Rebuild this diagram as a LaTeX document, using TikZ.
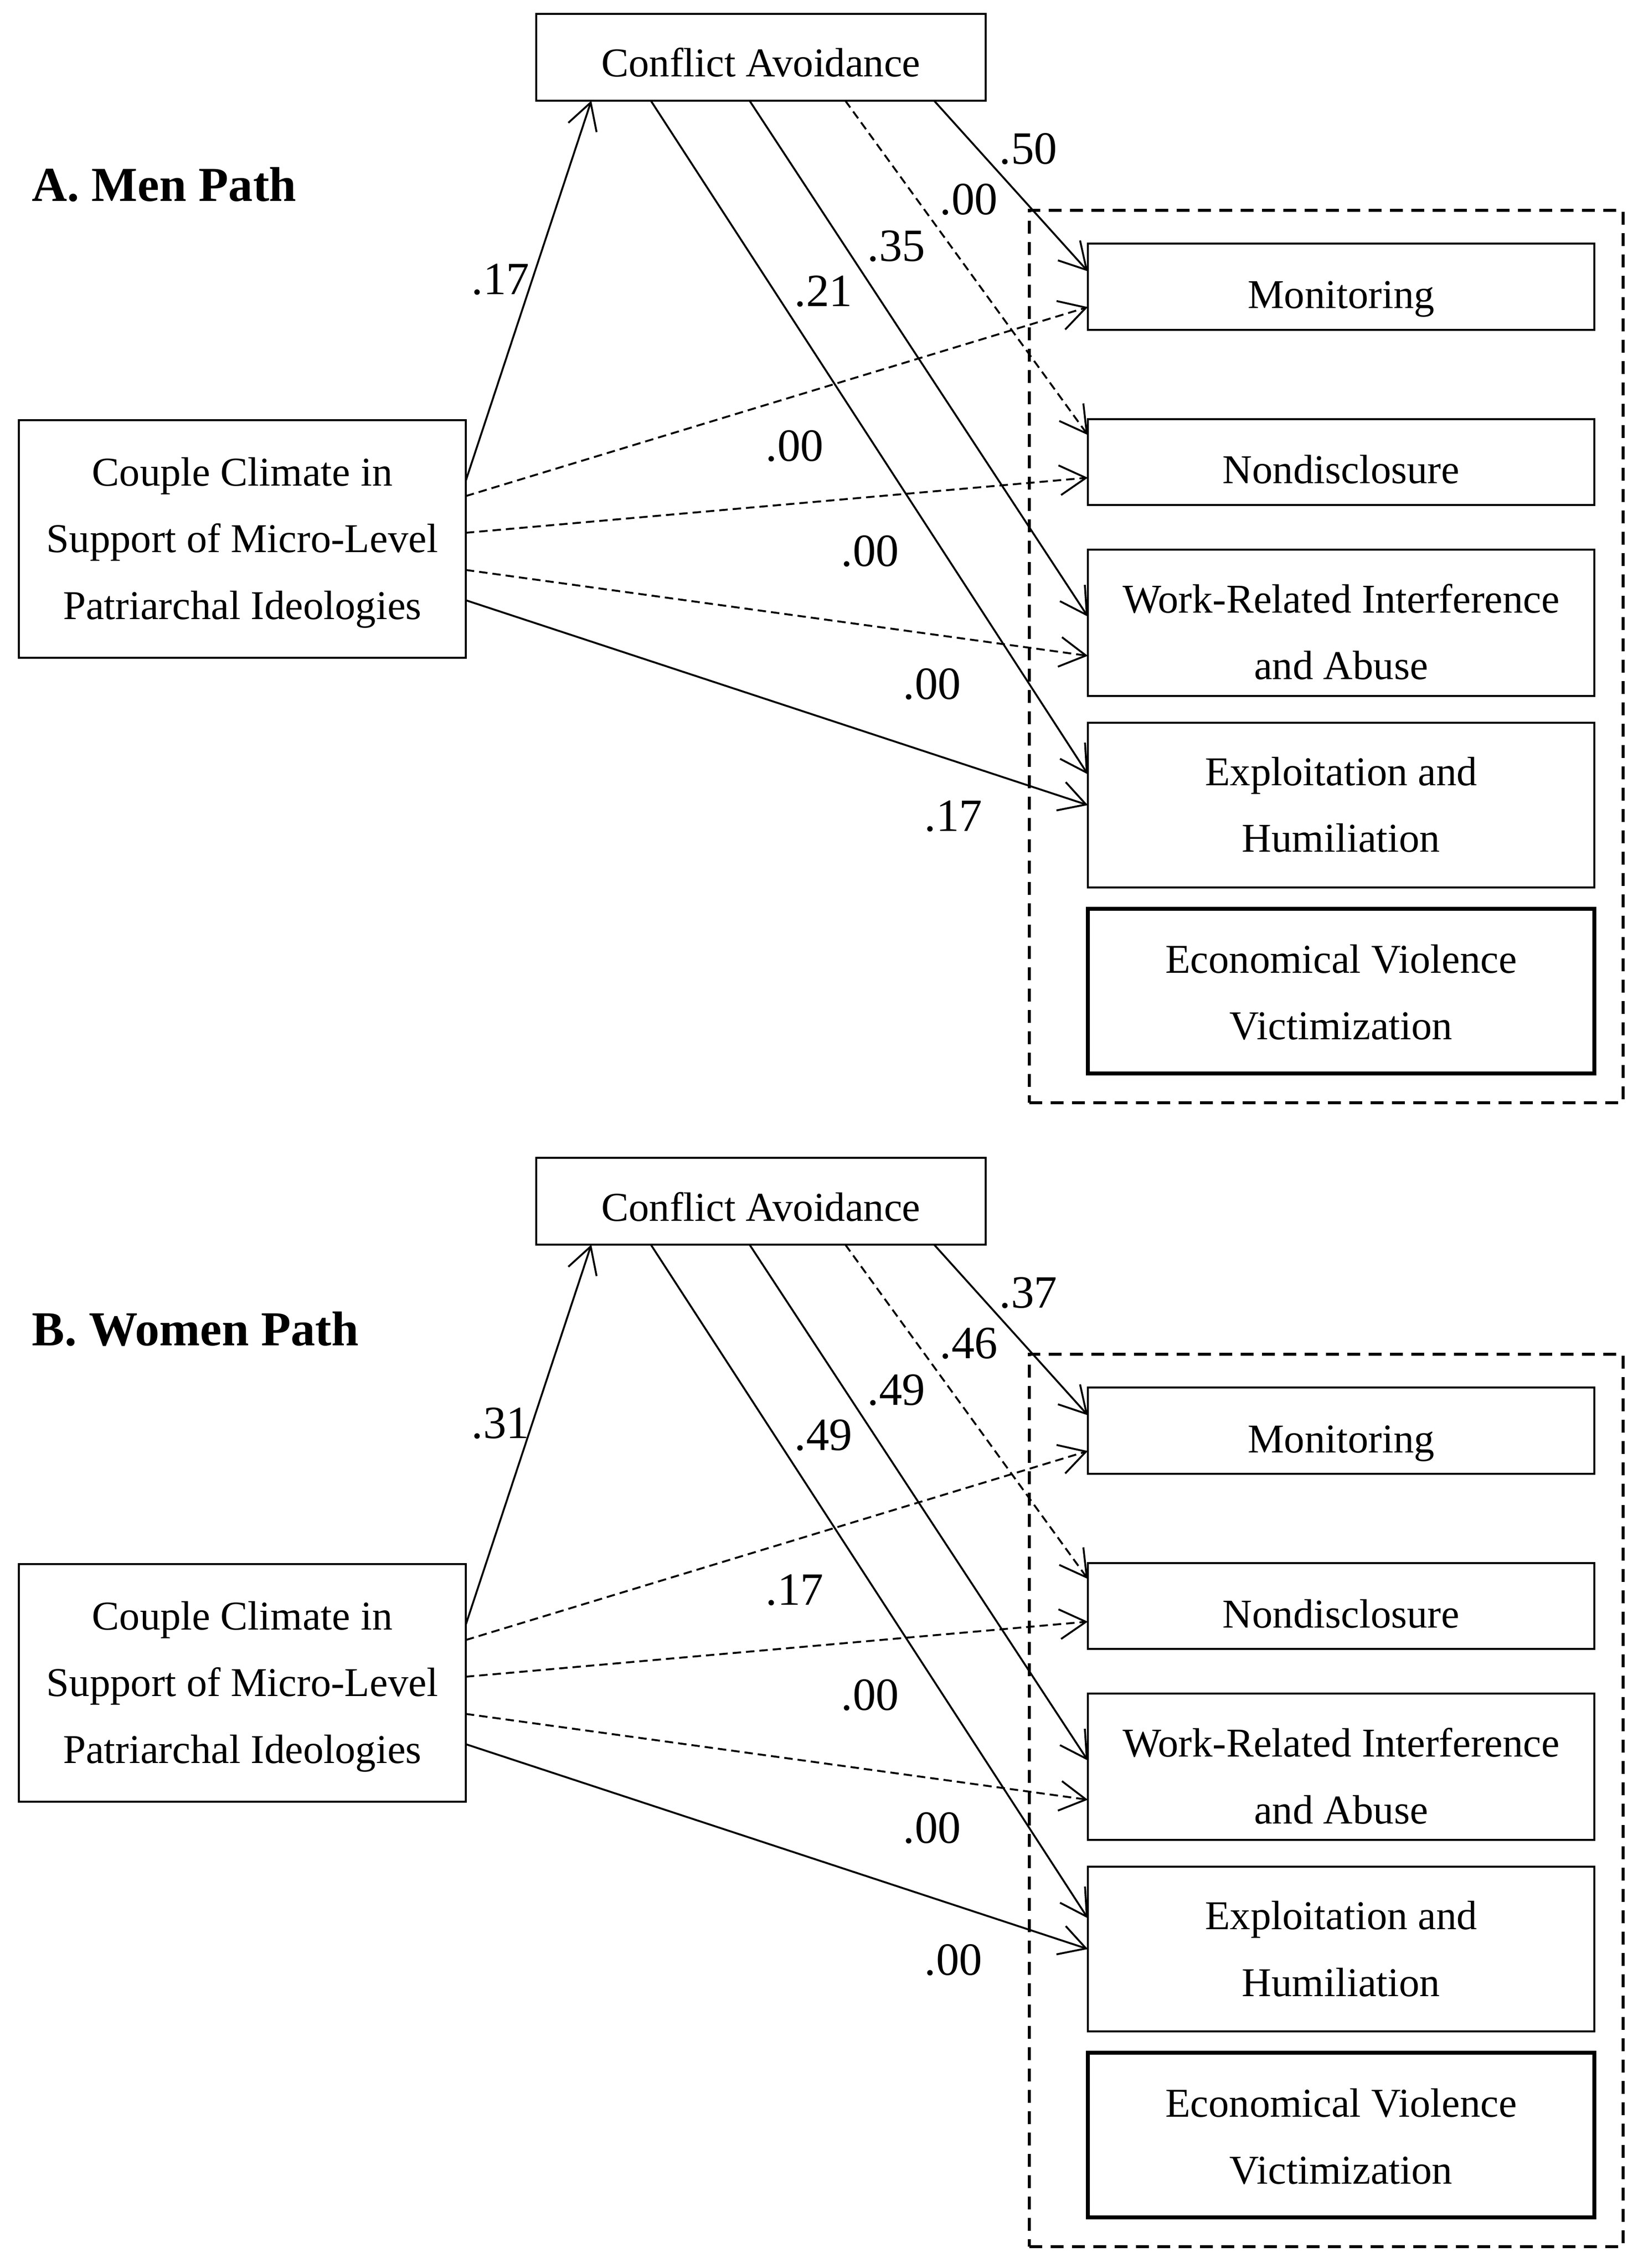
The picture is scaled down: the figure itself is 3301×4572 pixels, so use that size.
\documentclass[tikz,border=0pt]{standalone}
\usepackage{fontspec}
\setmainfont{Liberation Serif}
\usetikzlibrary{arrows.meta}
\newcommand\boxfont{\fontsize{23.5}{38.4}\selectfont}
\newcommand\bt[4]{\parbox[c][#2][t]{#1}{\centering\boxfont\rule{0pt}{#3}#4}}
\tikzset{
  bx/.style={draw, line width=0.4mm, inner sep=0pt, outer sep=0pt},
  thk/.style={draw, line width=0.8mm, inner sep=0pt, outer sep=0pt},
  pth/.style={line width=0.38mm, -{Straight Barb[length=5.3mm,width=6mm]}},
  dsh/.style={pth, dash pattern=on 1.7mm off 1mm},
  lbl/.style={font=\fontsize{26.5}{30}\selectfont, inner sep=0pt},
  ttl/.style={font=\bfseries\fontsize{28}{32}\selectfont, inner sep=0pt, anchor=base west},
  grp/.style={draw, line width=0.6mm, dash pattern=on 2.6mm off 1.7mm, inner sep=0pt},
}
\begin{document}
\begin{tikzpicture}[x=0.1mm,y=-0.1mm]
\useasboundingbox (0,0) rectangle (3301,4572);
% ---------------- Panel A ----------------
\node[ttl] (aT) at (64,406) {A. Men Path};
\node[bx] (aCA) at (1534,115.5) {\bt{90.6mm}{17.5mm}{12.7mm}{Conflict Avoidance}};
\node[bx] (aCO) at (488.5,1086.5) {\bt{90.1mm}{47.9mm}{13.2mm}{Couple Climate in\\Support of Micro-Level\\Patriarchal Ideologies}};
\node[grp, minimum width=119.7mm, minimum height=179.9mm] (aG) at (2673.5,1323.5) {};
\node[bx] (aMO) at (2703.5,578) {\bt{102.1mm}{17.4mm}{13.1mm}{Monitoring}};
\node[bx] (aND) at (2703.5,931.5) {\bt{102.1mm}{17.3mm}{13mm}{Nondisclosure}};
\node[bx] (aWR) at (2703.5,1255.5) {\bt{102.1mm}{29.5mm}{12.7mm}{Work-Related Interference\\and Abuse}};
\node[bx] (aEX) at (2703.5,1623) {\bt{102.1mm}{33.2mm}{12.6mm}{Exploitation and\\Humiliation}};
\node[thk] (aEV) at (2703.5,1998) {\bt{102.1mm}{33.2mm}{12.9mm}{Economical Violence\\Victimization}};
\draw[pth] ([yshift=-12.2mm]aCO.north east) -- ([xshift=11.1mm]aCA.south west);
\draw[pth] ([xshift=80.2mm]aCA.south west) -- ([yshift=-5.6mm]aMO.north west);
\draw[dsh] ([xshift=62.3mm]aCA.south west) -- ([yshift=-3.2mm]aND.north west);
\draw[pth] ([xshift=43mm]aCA.south west) -- ([yshift=-13.5mm]aWR.north west);
\draw[pth] ([xshift=23.1mm]aCA.south west) -- ([yshift=-10.4mm]aEX.north west);
\draw[dsh] ([yshift=-15.3mm]aCO.north east) -- ([yshift=-12.8mm]aMO.north west);
\draw[dsh] ([yshift=-22.7mm]aCO.north east) -- ([yshift=-11.8mm]aND.north west);
\draw[dsh] ([yshift=-30.2mm]aCO.north east) -- ([yshift=-21.4mm]aWR.north west);
\draw[pth] ([yshift=-36.3mm]aCO.north east) -- ([yshift=-16.6mm]aEX.north west);
\node[lbl] (aL1) at (1009,563) {.17};
\node[lbl] (aL2) at (2073,300) {.50};
\node[lbl] (aL3) at (1953,402) {.00};
\node[lbl] (aL4) at (1807,496) {.35};
\node[lbl] (aL5) at (1660,587) {.21};
\node[lbl] (aL6) at (1602,899) {.00};
\node[lbl] (aL7) at (1754,1111) {.00};
\node[lbl] (aL8) at (1879,1379) {.00};
\node[lbl] (aL9) at (1922,1645) {.17};
% ---------------- Panel B ----------------
\begin{scope}[shift={(0,2306)}]
\node[ttl] (bT) at (64,406) {B. Women Path};
\node[bx] (bCA) at (1534,115.5) {\bt{90.6mm}{17.5mm}{12.7mm}{Conflict Avoidance}};
\node[bx] (bCO) at (488.5,1086.5) {\bt{90.1mm}{47.9mm}{13.2mm}{Couple Climate in\\Support of Micro-Level\\Patriarchal Ideologies}};
\node[grp, minimum width=119.7mm, minimum height=179.9mm] (bG) at (2673.5,1323.5) {};
\node[bx] (bMO) at (2703.5,578) {\bt{102.1mm}{17.4mm}{13.1mm}{Monitoring}};
\node[bx] (bND) at (2703.5,931.5) {\bt{102.1mm}{17.3mm}{13mm}{Nondisclosure}};
\node[bx] (bWR) at (2703.5,1255.5) {\bt{102.1mm}{29.5mm}{12.7mm}{Work-Related Interference\\and Abuse}};
\node[bx] (bEX) at (2703.5,1623) {\bt{102.1mm}{33.2mm}{12.6mm}{Exploitation and\\Humiliation}};
\node[thk] (bEV) at (2703.5,1998) {\bt{102.1mm}{33.2mm}{12.9mm}{Economical Violence\\Victimization}};
\draw[pth] ([yshift=-12.2mm]bCO.north east) -- ([xshift=11.1mm]bCA.south west);
\draw[pth] ([xshift=80.2mm]bCA.south west) -- ([yshift=-5.6mm]bMO.north west);
\draw[dsh] ([xshift=62.3mm]bCA.south west) -- ([yshift=-3.2mm]bND.north west);
\draw[pth] ([xshift=43mm]bCA.south west) -- ([yshift=-13.5mm]bWR.north west);
\draw[pth] ([xshift=23.1mm]bCA.south west) -- ([yshift=-10.4mm]bEX.north west);
\draw[dsh] ([yshift=-15.3mm]bCO.north east) -- ([yshift=-12.8mm]bMO.north west);
\draw[dsh] ([yshift=-22.7mm]bCO.north east) -- ([yshift=-11.8mm]bND.north west);
\draw[dsh] ([yshift=-30.2mm]bCO.north east) -- ([yshift=-21.4mm]bWR.north west);
\draw[pth] ([yshift=-36.3mm]bCO.north east) -- ([yshift=-16.6mm]bEX.north west);
\node[lbl] (bL1) at (1009,563) {.31};
\node[lbl] (bL2) at (2073,300) {.37};
\node[lbl] (bL3) at (1953,402) {.46};
\node[lbl] (bL4) at (1807,496) {.49};
\node[lbl] (bL5) at (1660,587) {.49};
\node[lbl] (bL6) at (1602,899) {.17};
\node[lbl] (bL7) at (1754,1111) {.00};
\node[lbl] (bL8) at (1879,1379) {.00};
\node[lbl] (bL9) at (1922,1645) {.00};
\end{scope}
\end{tikzpicture}
\end{document}
